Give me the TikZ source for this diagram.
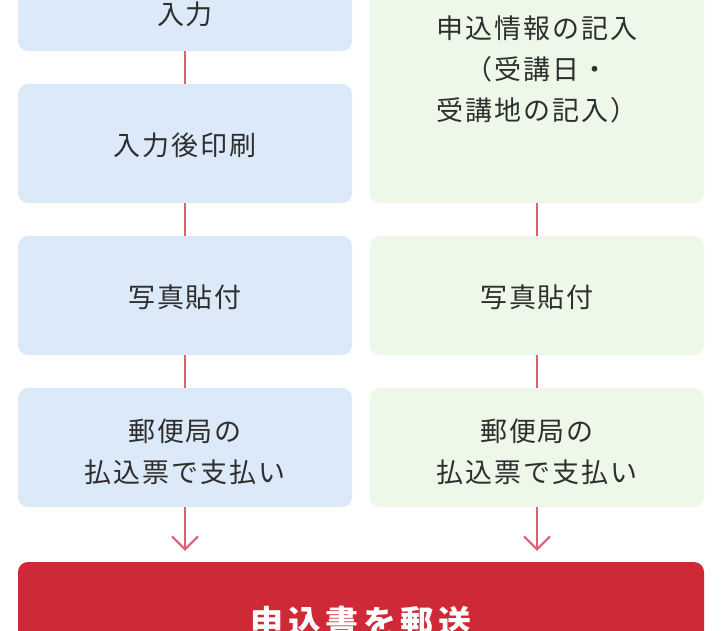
\documentclass[tikz,border=0pt]{standalone}
\usepackage{fontspec}
\setmainfont{Noto Sans CJK JP}[LetterSpace=7]
\usetikzlibrary{arrows.meta,calc}
\definecolor{bluebox}{HTML}{DCE9F8}
\definecolor{greenbox}{HTML}{EEF8E8}
\definecolor{redbox}{HTML}{CE2936}
\definecolor{conn}{HTML}{DE6070}
\definecolor{txt}{HTML}{2E2E2E}
\begin{document}
\begin{tikzpicture}[x=1pt,y=1pt,
  boxtext/.style={text=txt, align=center, inner sep=0pt, font=\fontsize{27pt}{41pt}\selectfont},
  box/.style={rounded corners=10pt, minimum width=334pt, minimum height=119pt, inner sep=0pt},
  lbox/.style={box, fill=bluebox},
  rbox/.style={box, fill=greenbox},
  link/.style={draw=conn, line width=2pt},
  arr/.style={link, -{Straight Barb[length=13pt,width=26pt,line width=2pt]}}]
\useasboundingbox (0,0) rectangle (722,-630);
\clip (0,0) rectangle (722,-630);
\fill[white] (0,0) rectangle (722,-630);
% left column
\node[lbox] (l1) at (185,8.5) {};
\node[lbox] (l2) at (185,-143.5) {};
\node[lbox] (l3) at (185,-295.5) {};
\node[lbox] (l4) at (185,-447.5) {};
\node[boxtext] (l1t) at (185,-14) {入力};
\node[boxtext, yshift=-2pt] (l2t) at (l2) {入力後印刷};
\node[boxtext, yshift=-1.5pt] (l3t) at (l3) {写真貼付};
\node[boxtext, yshift=-4pt] (l4t) at (l4) {郵便局の\\払込票で支払い};
% right column
\node[rbox, minimum height=271pt] (r1) at (537,-67.5) {};
\node[rbox] (r3) at (537,-295.5) {};
\node[rbox] (r4) at (537,-447.5) {};
\node[boxtext, yshift=-1.5pt] (r1t) at (r1) {申込情報の記入\\（受講日・\\受講地の記入）};
\node[boxtext, yshift=-1.5pt] (r3t) at (r3) {写真貼付};
\node[boxtext, yshift=-4pt] (r4t) at (r4) {郵便局の\\払込票で支払い};
% final
\node[fill=redbox, rounded corners=10pt, minimum width=686pt, minimum height=119pt, inner sep=0pt, text=white,
      font=\bfseries\fontsize{33pt}{36pt}\selectfont\addfontfeatures{LetterSpace=14}] (fin) at (361,-621.5) {申込書を郵送};
% connectors
\draw[link] (l1) -- (l2);
\draw[link] (l2) -- (l3);
\draw[link] (l3) -- (l4);
\draw[link] (r1.south -| r3) -- (r3);
\draw[link] (r3) -- (r4);
\coordinate (la) at ([yshift=11pt]l4.south |- fin.north);
\coordinate (ra) at ([yshift=11pt]r4.south |- fin.north);
\draw[arr] (l4.south) -- (la);
\draw[arr] (r4.south) -- (ra);
\end{tikzpicture}
\end{document}
